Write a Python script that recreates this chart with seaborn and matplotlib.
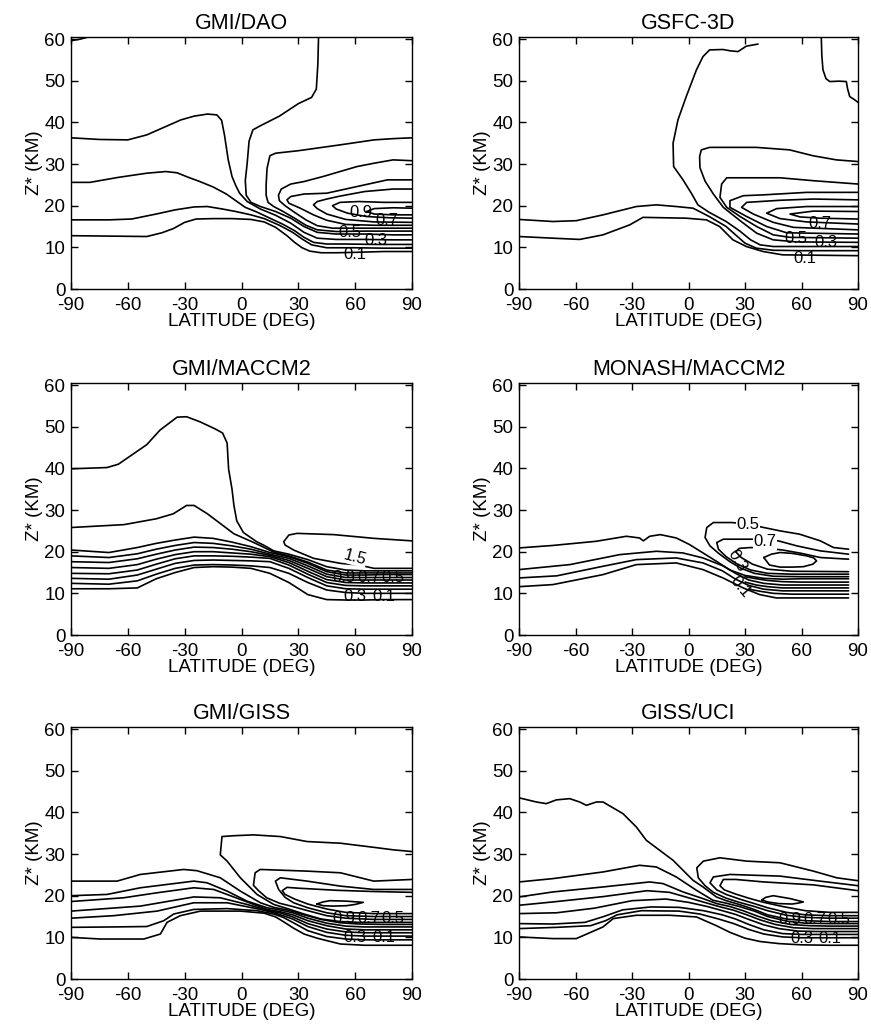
import matplotlib
matplotlib.use("Agg")
import matplotlib.pyplot as plt
import seaborn as sns

sns.set_theme(style="ticks", rc={"axes.edgecolor": "black", "xtick.color": "black",
                                 "ytick.color": "black", "text.color": "black",
                                 "axes.labelcolor": "black", "axes.linewidth": 1.0})
plt.rcParams["font.family"] = ["Liberation Sans", "DejaVu Sans"]

TITLES = ["GMI/DAO", "GSFC-3D", "GMI/MACCM2", "MONASH/MACCM2", "GMI/GISS", "GISS/UCI"]
LAT_TICKS = [-90, -60, -30, 0, 30, 60, 90]
Z_TICKS = [0, 10, 20, 30, 40, 50, 60]
X_LABEL = "LATITUDE (DEG)"
Y_LABEL = "Z* (KM)"

# ---------------- GMI/DAO contour lines (latitude, altitude) ----------------
dao_lat = [
    [-90, -85, -80],
    [40.7, 40.3, 39.5, 37, 30, 20, 10, 6, 4, 3, 2, 2.5, 5, 10, 18, 26, 33, 40, 50, 65, 80, 90],
    [-90, -75, -60, -50, -40, -32, -25, -18, -13, -10.5, -9, -7, -5, -3, -1, 3, 10, 18, 26, 33, 40, 50, 65, 80, 90],
    [-90, -80, -65, -50, -40, -34, -28, -22, -15, -8, -3, 2, 8, 15, 22, 28, 33, 38, 45, 55, 70, 90],
    [-90, -70, -58, -45, -35, -25, -18, -10, -3, 5, 12, 20, 27, 32, 37, 45, 60, 75, 90],
    [-90, -70, -50, -42, -36, -30, -24, -15, -5, 5, 12, 18, 24, 28, 32, 36, 42, 50, 60, 75, 90],
    [90, 80, 70, 52, 30, 18, 15, 13.5, 13, 13, 14, 17, 22, 28, 34, 40, 50, 65, 90],
    [90, 80, 70, 61, 52, 43, 33, 26, 21, 19.5, 20, 23, 28, 34, 40, 48, 58, 70, 90],
    [90, 77, 61, 45, 33, 26, 24, 25, 31, 38, 45, 55, 70, 90],
    [90, 80, 65, 52, 45, 40, 38, 40, 45, 55, 70, 90],
    [90, 75, 62, 52, 48, 50, 56, 66, 78, 90],
    [90, 80, 70, 66, 70, 80, 90],
]
dao_z = [
    [59.6, 60.0, 60.6],
    [61, 54, 48, 46, 44.5, 41.5, 39.2, 38.2, 35.5, 30.2, 26, 22.5, 20.8, 19.8, 18.6, 17, 15, 13.6, 13.2, 13.2, 13, 13],
    [36.3, 35.9, 35.8, 37, 39, 40.6, 41.5, 42, 41.8, 40.5, 37, 31, 27, 24.8, 23, 21, 19.2, 17.7, 15.8, 13.6, 12.2, 11.9, 11.9, 11.8, 11.8],
    [25.6, 25.6, 26.8, 27.8, 28.2, 27.9, 26.8, 25.8, 24.5, 22.8, 21.2, 19.6, 18.5, 17, 15.5, 14, 12.4, 11.2, 10.8, 10.8, 10.7, 10.7],
    [16.6, 16.6, 16.8, 18, 19, 19.7, 19.8, 19.2, 18.6, 17.8, 16.9, 15.3, 13.6, 12, 10.6, 9.9, 9.9, 9.8, 9.8],
    [12.8, 12.7, 12.6, 13.5, 14.5, 16, 16.8, 16.9, 16.9, 16.7, 16.1, 14.8, 12.8, 11.2, 9.9, 9.1, 8.7, 8.7, 8.8, 9, 9],
    [36.3, 36.1, 35.8, 34.6, 33.2, 32.6, 32, 29, 25, 22.5, 20.8, 19.8, 18.6, 17, 15.3, 14.2, 13.8, 13.9, 13.9],
    [30.8, 31, 30.2, 29.4, 28.2, 27, 25.8, 25.2, 24, 22.5, 21.2, 20, 18.4, 16.6, 15.2, 14.6, 14.6, 14.6, 14.6],
    [26.2, 26.2, 24.6, 23, 22.8, 22.2, 21.4, 20.6, 19.4, 17.8, 16.5, 15.5, 15.3, 15.3],
    [24, 24, 23.4, 22.3, 21.6, 21, 20.2, 19.3, 18, 16.7, 16.1, 16],
    [20.8, 20.8, 21, 20.8, 20, 19.2, 18.2, 17.4, 17.1, 17],
    [19.4, 19.5, 19.3, 18.6, 18, 17.8, 17.8],
]
dao_labels = ["0.9", "0.7", "0.5", "0.3", "0.1"]
dao_label_lat = [63, 77, 57, 71, 60]
dao_label_z = [18.3, 16.4, 13.6, 11.6, 8.4]

# ---------------- GSFC-3D ----------------
gsfc_lat = [
    [36.9, 30.7, 26.3, 21.9, 18.3, 11.2, 7.7, 4.2, -1.2, -5.6, -8.2, -7.9, -2.9, 1.5, 5, 11, 20, 27, 33, 38, 45, 60, 90],
    [70.5, 70.8, 71.4, 73, 75, 80, 83.8, 84.5, 85.6, 88, 90],
    [-90, -72, -59.6, -45.4, -27.7, -17.1, -6.5, 2.4, 11, 20, 25, 30, 36, 45, 60, 90],
    [-90, -72, -57.8, -45.4, -38.3, -31.2, -24.2, -1.2, 9.5, 16.5, 23.6, 30.7, 39.6, 50, 90],
    [90, 78.5, 66, 53.7, 36, 20, 11.2, 6.8, 5.9, 6.1, 8.8, 13.2, 18.5, 27.4, 36.2, 45, 57.5, 90],
    [90, 66.3, 48.6, 20.3, 17.6, 16.7, 20.3, 27.4, 36.2, 45, 53.9, 90],
    [90, 62.8, 39.8, 29.1, 22, 22, 30.9, 41.5, 52.1, 90],
    [90, 66.3, 48.6, 30.9, 28.2, 34.4, 45, 55.7, 90],
    [90, 62.8, 46.8, 41.5, 48.6, 62.8, 90],
    [90, 66.3, 53.9, 59.2, 70, 90],
]
gsfc_z = [
    [58.8, 58.3, 57, 57.2, 57.5, 57.4, 55.8, 52.6, 46.2, 40.6, 35, 29.4, 26.2, 23, 20.2, 18.4, 16.2, 14, 11.8, 10.6, 10.2, 10.2, 10.2],
    [60.5, 56, 52.6, 50.5, 49.8, 49.9, 49.8, 48, 46.2, 45.5, 44.8],
    [16.7, 16.2, 16.4, 17.8, 19.8, 20.2, 19.8, 19.4, 17.4, 15, 13, 11, 9.8, 9.3, 9.2, 9.2],
    [12.6, 12.2, 11.9, 13, 14.2, 15.4, 17.2, 17, 16.6, 15, 11.8, 10.2, 9, 8.2, 8],
    [30.6, 31, 32, 33.4, 34, 34, 34, 33.4, 31.8, 29.1, 25.9, 22.8, 19.6, 16.4, 13.4, 11.8, 11.3, 11.2],
    [25.2, 26, 26.7, 26.7, 25.2, 22, 19.6, 17.4, 15, 13, 12.4, 12.2],
    [23.2, 23.2, 22.6, 22.4, 21.2, 19.6, 17.4, 15, 13.5, 13.2],
    [21.4, 21.6, 21.3, 20.8, 19.6, 18, 16, 14.8, 14.2],
    [19.8, 19.8, 19.3, 18.2, 16.9, 16.1, 15.6],
    [18.6, 18.7, 18, 17.3, 17, 16.8],
]
gsfc_labels = ["0.7", "0.5", "0.3", "0.1"]
gsfc_label_lat = [70, 57, 73, 62]
gsfc_label_z = [15.8, 12.2, 11.2, 7.4]

# ---------------- GMI/MACCM2 ----------------
MAC_ST = [-90, -70, -55, -45, -35, -25, -15, -5, 5, 15, 25, 35, 45, 55, 65, 75, 90]
mac_lat = [
    [-90, -71, -65, -50, -43, -34, -29, -22, -14, -10, -7.6, -6.8, -5, -4, -2.5, 1, 8, 12, 17, 25, 35, 45, 55, 65, 75, 90],
    [-90, -62, -45, -36, -29, -25, -18, -11, -4, 6, 12, 17, 25, 35, 45, 55, 65, 90],
    MAC_ST, MAC_ST, MAC_ST, MAC_ST, MAC_ST, MAC_ST, MAC_ST, MAC_ST,
    [90, 70, 48.7, 29.3, 25, 22.3, 23, 27.5, 38.1, 52.2, 62, 70, 90],
]
mac_z = [
    [39.9, 40.2, 41, 45.7, 49.2, 52.3, 52.4, 51.2, 49.5, 48.5, 46.1, 39.8, 35, 31.1, 27.4, 24.6, 22.4, 21.5, 20.2, 19.4, 18.1, 16.4, 15.6, 15.4, 15.4, 15.4],
    [25.8, 26.5, 27.9, 29.1, 31.1, 31.1, 29.1, 26.7, 24.3, 22.3, 21, 19.9, 19, 17.5, 15.6, 14.9, 14.9, 14.9],
    [20.4, 19.8, 21, 22, 22.8, 23.5, 23.2, 22.3, 21.2, 19.8, 18.8, 17.2, 15.2, 14.4, 14.4, 14.5, 14.5],
    [19, 18.6, 19.5, 20.6, 21.5, 22.2, 22, 21.4, 20.6, 19.4, 18.4, 16.6, 14.6, 13.8, 13.8, 13.8, 13.8],
    [17.6, 17.4, 18.3, 19.4, 20.4, 21.1, 21, 20.6, 20, 19.1, 17.9, 16, 14, 13.2, 13.2, 13.2, 13.2],
    [16.2, 16, 16.9, 18.2, 19.3, 20, 20, 19.7, 19.4, 18.8, 17.4, 15.3, 13.3, 12.6, 12.5, 12.5, 12.5],
    [14.8, 14.7, 15.6, 17, 18.3, 19, 19, 18.9, 18.7, 18.4, 16.8, 14.6, 12.6, 11.9, 11.8, 11.8, 11.8],
    [13.6, 13.4, 14.4, 15.8, 17.2, 17.9, 18, 17.9, 17.8, 17.6, 16, 13.8, 11.8, 11.1, 11, 11, 11],
    [12.4, 12.2, 13, 14.6, 16, 16.8, 16.9, 16.8, 16.6, 16.2, 14.8, 12.6, 10.8, 10.2, 10, 10, 10],
    [11.1, 11.1, 11.3, 13.5, 15, 16.2, 16.4, 16.3, 16, 14.8, 12.6, 9.7, 8.5, 8.4, 8.4, 8.5, 8.5],
    [22.6, 23.2, 24.1, 24.4, 24, 22.4, 21.6, 20.4, 18.4, 17.2, 16.8, 16, 16],
]
mac_labels = ["1.5", "0.9", "0.7", "0.5", "0.3", "0.1"]
mac_label_lat = [60, 54, 67, 80, 60, 75]
mac_label_z = [18.6, 13.8, 13.8, 13.8, 9.2, 9.2]
mac_label_rot = [-15, 0, 0, 0, 0, 0]

# ---------------- MONASH/MACCM2 ----------------
mon_lat = [
    [-90, -72, -49, -33, -26, -24, -20.6, -15, -6.5, 0.6, 7.7, 14.8, 22, 30, 40, 50, 60, 70, 85],
    [-90, -63, -36.5, -17, -3, 7.7, 18.3, 25, 32, 40, 50, 60, 85],
    [-90, -70, -45.4, -27.7, -6.5, 7.7, 18, 25, 32, 40, 50, 85],
    [-90, -72, -45.4, -27.7, -6.5, 7.7, 18.3, 29, 37.8, 46.6, 85],
    [85, 77, 70, 59, 48.6, 40, 32, 23, 13.2, 9.7, 8.8, 11.4, 16, 22, 28, 35, 45, 60, 85],
    [85, 70, 57.5, 47.7, 40, 33.6, 25, 18.5, 15, 15.9, 20, 26, 33, 42, 55, 85],
    [85, 70, 60, 50, 42, 33, 27, 25, 28, 34, 42, 55, 85],
    [40, 44, 48.6, 55, 62.8, 66.5, 68, 66, 61, 55, 48.6, 43, 40],
    [30, 36, 42, 50, 60, 85],
    [30, 36, 42, 50, 60, 85],
    [32, 38, 45, 55, 85],
]
mon_z = [
    [20.9, 21.5, 22.5, 23.7, 23.3, 22.6, 23.7, 24.1, 23.3, 21.7, 19.7, 17.7, 15.6, 14.3, 13.6, 13.4, 13.5, 13.5, 13.5],
    [15.7, 16.9, 19.3, 20.1, 19.7, 18.5, 16.6, 14.8, 13.2, 12.4, 12, 12, 12],
    [13.7, 14.2, 16.5, 18.1, 18.5, 17.3, 15.4, 13.4, 11.9, 11, 10.6, 10.6],
    [11.6, 12.1, 14.5, 16.9, 17.3, 15.7, 13.7, 11.3, 9.7, 8.9, 8.9],
    [20.6, 21, 22.6, 24.2, 25, 25.8, 26.6, 27, 27, 25.8, 23.4, 21.4, 19.6, 17.6, 16, 14.8, 14.1, 14, 14],
    [19.4, 20.2, 21.4, 22.6, 22.8, 23, 23, 23, 22.2, 20.6, 18.8, 17, 15.6, 14.8, 14.6, 14.6],
    [18.2, 18.6, 19.6, 20.4, 20.8, 21, 20.8, 20, 18.6, 17, 15.8, 15.3, 15.2],
    [18.6, 19.4, 19.8, 19.6, 19.0, 18.5, 17.8, 17, 16.4, 16.3, 16.3, 16.8, 18.6],
    [14.0, 13.5, 13.1, 12.8, 12.7, 12.7],
    [12.7, 12.0, 11.6, 11.3, 11.3, 11.3],
    [11.0, 10.5, 10.0, 9.8, 9.8],
]
mon_labels = ["0.5", "0.7", "0.3", "0.1"]
mon_label_lat = [31.5, 40.5, 25.5, 27.5]
mon_label_z = [26.6, 22.4, 17.8, 11.6]
mon_label_rot = [0, 0, -60, -50]

# ---------------- GMI/GISS ----------------
giss_lat = [
    [90, 80.3, 70, 52.2, 34.6, 20.5, 6.4, -4.1, -10.3, -11.2, -7.6, -0.6, 8.2, 17, 25, 33, 42, 52, 62, 75, 90],
    [-90, -65.7, -53.4, -30.5, -23.5, -11.2, -0.6, 10, 17, 25, 33, 42, 52, 62, 75, 90],
    [-90, -71, -53.4, -25.2, -18.2, -7.6, 2.9, 13.5, 20, 27, 35, 45, 55, 65, 75, 90],
    [-90, -62.2, -44.6, -25.2, -14.7, -0.6, 13.5, 20, 27, 35, 45, 55, 65, 90],
    [-90, -53.4, -25.2, -11.2, 2.9, 15.2, 21, 27, 35, 45, 55, 65, 90],
    [-90, -67.5, -44.6, -25.2, -7.6, 10, 17, 22, 27, 35, 45, 55, 65, 90],
    [-90, -67.5, -50, -41, -35.8, -25.2, -7.6, 8.2, 17, 22, 27, 35, 45, 55, 65, 90],
    [-90, -74.5, -51.6, -42.8, -39.3, -32.3, -21.7, -0.6, 12, 18, 22, 27.5, 33, 39.9, 52.2, 65, 90],
    [90, 69.8, 52.2, 34.6, 9.9, 7.2, 6.3, 9, 13.3, 20, 27, 35, 45, 55, 70, 90],
    [90, 69.8, 52.2, 34.6, 20.5, 17.9, 19.6, 23, 27.5, 35, 45, 55, 70, 90],
    [90, 70, 50, 30, 24, 21.5, 23, 28, 35, 45, 55, 70, 90],
    [39.7, 43, 46.7, 55, 64.3, 60, 55.5, 48, 43.2, 39.7],
]
giss_z = [
    [30.6, 31, 31.6, 32.6, 33, 34.2, 34.6, 34.4, 34.2, 29.8, 28.3, 24.3, 20.3, 17.9, 16.8, 15.6, 14.4, 13.8, 13.6, 13.6, 13.6],
    [23.5, 23.5, 25.1, 26.3, 26, 24.3, 21.1, 18.3, 17.2, 16.5, 15.4, 14.3, 13.5, 13.2, 13.1, 13.1],
    [20, 20.3, 21.9, 23.5, 23.1, 21.1, 18.7, 17.1, 16.6, 15.9, 14.6, 13.4, 12.7, 12.5, 12.5, 12.5],
    [18.6, 19.5, 20.7, 21.9, 21.5, 19.1, 16.7, 16.2, 15.4, 14, 12.8, 12, 11.8, 11.8],
    [16.3, 17.5, 19.7, 19.5, 17.9, 16.3, 15.8, 14.9, 13.3, 12, 11.3, 11.1, 11.1],
    [14.6, 15.2, 16.3, 18.3, 18.3, 16.7, 15.9, 15.2, 14.4, 12.6, 11.2, 10.5, 10.3, 10.3],
    [12.4, 12.5, 12.6, 14, 15.6, 16.7, 16.9, 16.4, 15.6, 14.8, 13.6, 11.6, 10.2, 9.6, 9.4, 9.4],
    [10, 9.6, 9.6, 10.8, 13.6, 15.2, 16.3, 16.3, 15.8, 14.9, 13.8, 12.2, 10.8, 9.8, 8.4, 8.1, 8.1],
    [23.9, 23.5, 25.5, 25.9, 26.3, 25.5, 22.5, 21.2, 19.5, 18.2, 17.4, 16.4, 15.2, 14.6, 14.3, 14.3],
    [21.5, 21.5, 22.3, 23.5, 24.3, 23.5, 21.5, 19.6, 18.3, 17.1, 15.9, 15.2, 15, 15],
    [20.8, 21, 21.3, 21.8, 22, 21.2, 20.3, 19.2, 18, 16.8, 16, 15.7, 15.7],
    [18, 18.5, 18.8, 18.7, 18.4, 17.9, 17.6, 17.5, 17.6, 18],
]
giss_labels = ["0.9", "0.7", "0.5", "0.3", "0.1"]
giss_label_lat = [54, 67, 80, 60, 75]
giss_label_z = [14.6, 14.6, 14.6, 10.0, 10.0]

# ---------------- GISS/UCI ----------------
uci_lat = [
    [-90, -80.8, -75.5, -70.2, -63.1, -57.8, -54.2, -48.9, -45.4, -34.8, -27.7, -22.4, -15.3, -8.2, -2.9, 2.4, 7.7, 14.8, 20, 25.4, 31, 36, 42, 52, 62, 75, 90],
    [90, 78.7, 66.3, 48.6, 30.9, 16.7, 7.9, 4.4, 5.2, 8.8, 13.2, 20, 27, 35, 42, 52, 62, 75, 90],
    [90, 69.8, 48.6, 22, 13.2, 11.4, 15, 20, 27, 35, 42, 52, 62, 75, 90],
    [90, 66.3, 40, 25, 18.5, 16.7, 19, 25, 32, 40, 50, 62, 75, 90],
    [39, 41, 45, 54, 61, 58, 55, 48, 42, 39],
    [-90, -72, -45.4, -26, -17.1, -6.5, 4.2, 13, 20, 27, 35, 42, 52, 62, 75, 90],
    [-90, -72, -45.4, -20.6, -13.5, -2.9, 7.7, 15, 22, 29, 36, 44, 54, 64, 75, 90],
    [-90, -72, -45, -22, -10, 0, 10, 17, 24, 31, 38, 46, 56, 66, 90],
    [-90, -70, -50, -30, -12, 0, 10, 18, 25, 32, 40, 48, 58, 68, 90],
    [-90, -72, -55, -45, -35, -20, -5, 8, 18, 25, 32, 40, 50, 60, 90],
    [-90, -70, -52, -44, -38, -25, -5, 6, 16, 24, 32, 40, 50, 60, 90],
    [-90, -72, -59.6, -45.4, -40, -27.7, -10, 4.2, 14.8, 22, 30, 38, 48, 60, 75, 90],
]
uci_z = [
    [43.5, 42.5, 42.1, 43, 43.3, 42.5, 41.7, 42.5, 42.5, 39.7, 36.5, 33.3, 30.9, 28.5, 26.1, 23.7, 22.1, 19.7, 18.8, 18.1, 17.3, 16.5, 15.4, 14.4, 14, 13.8, 13.8],
    [23.6, 24.3, 25.9, 27.9, 28.3, 29.1, 28.3, 26.7, 24.3, 22.4, 20.8, 19.4, 18.4, 17.4, 16.4, 15.3, 14.8, 14.6, 14.6],
    [22.4, 23.5, 24.7, 25.1, 24.5, 23.1, 21.4, 20.3, 19.2, 18.1, 17.1, 16, 15.4, 15.2, 15.2],
    [21.2, 22.6, 23.3, 23.9, 23.9, 22.4, 21.4, 20.4, 19.4, 18.4, 17.4, 16.4, 16, 16],
    [19, 19.6, 20, 19.3, 18.5, 18.2, 18, 18.1, 18.5, 19],
    [23.3, 24.1, 25.7, 27.3, 26.9, 24.5, 21.3, 18.9, 18.2, 17.4, 16.3, 15, 13.9, 13.4, 13.3, 13.3],
    [19.7, 20.9, 22.1, 23.3, 22.9, 20.9, 19.3, 18.1, 17.4, 16.4, 15.2, 14, 13.1, 12.8, 12.7, 12.7],
    [17.7, 18.5, 19.8, 21.2, 20.8, 19.5, 18.2, 17.3, 16.5, 15.4, 14.2, 13.1, 12.3, 12.1, 12.1],
    [15.7, 15.9, 17, 18.8, 19.2, 18.4, 17.4, 16.4, 15.5, 14.3, 13, 12.1, 11.5, 11.4, 11.4],
    [13.3, 13.2, 13.6, 15, 16.6, 17.3, 17.2, 16.4, 15.4, 14.4, 13.1, 11.8, 10.9, 10.7, 10.7],
    [12.1, 12.4, 12.8, 14, 15.4, 16.4, 16.3, 15.6, 14.4, 13.3, 11.9, 10.8, 10.1, 9.9, 9.9],
    [10.1, 9.7, 9.7, 12.5, 14.5, 15.3, 15.3, 14.9, 12.8, 11.2, 9.8, 9, 8.5, 8.2, 8.1, 8.1],
]
uci_labels = ["0.9", "0.7", "0.5", "0.3", "0.1"]
uci_label_lat = [54, 67, 80, 60, 75]
uci_label_z = [14.4, 14.4, 14.4, 9.8, 9.8]

# ---------------- layout ----------------
fig = plt.figure(figsize=(8.71, 10.30), dpi=100)
col_left = [71 / 871, 519 / 871]
col_w = [341 / 871, 339 / 871]
row_bottom = [1 - 289 / 1030, 1 - 635 / 1030, 1 - 979 / 1030]
row_h = 252 / 1030

panels = [
    (dao_lat, dao_z, dao_labels, dao_label_lat, dao_label_z, None, False),
    (gsfc_lat, gsfc_z, gsfc_labels, gsfc_label_lat, gsfc_label_z, None, False),
    (mac_lat, mac_z, mac_labels, mac_label_lat, mac_label_z, mac_label_rot, False),
    (mon_lat, mon_z, mon_labels, mon_label_lat, mon_label_z, mon_label_rot, True),
    (giss_lat, giss_z, giss_labels, giss_label_lat, giss_label_z, None, False),
    (uci_lat, uci_z, uci_labels, uci_label_lat, uci_label_z, None, False),
]

for i, (lats, zs, labs, llat, lz, lrot, boxed) in enumerate(panels):
    r, c = divmod(i, 2)
    ax = fig.add_axes([col_left[c], row_bottom[r], col_w[c], row_h])
    for la, zz in zip(lats, zs):
        assert len(la) == len(zz)
        sns.lineplot(x=la, y=zz, sort=False, estimator=None, color="black",
                     linewidth=1.2, ax=ax, legend=False)
    for k, (t, x, y) in enumerate(zip(labs, llat, lz)):
        rot = 0 if lrot is None else lrot[k]
        kw = {}
        if (boxed and rot == 0) or (t == "1.5"):
            kw["bbox"] = dict(facecolor="white", edgecolor="none", pad=0.4)
        ax.text(x, y, t, fontsize=12, ha="center", va="center", rotation=rot,
                zorder=5, **kw)
    ax.set_xlim(-90, 90)
    ax.set_ylim(0, 60.5)
    ax.set_xticks(LAT_TICKS)
    ax.set_yticks(Z_TICKS)
    ax.set_xticklabels([str(v) for v in LAT_TICKS])
    ax.set_yticklabels([str(v) for v in Z_TICKS])
    ax.tick_params(direction="in", top=True, right=True, length=5, width=1,
                   labelsize=13.5)
    ax.tick_params(axis="x", pad=6)
    ax.tick_params(axis="y", pad=4)
    ax.set_xlabel(X_LABEL, fontsize=13.5, labelpad=-1)
    ax.set_ylabel(Y_LABEL, fontsize=13.5, labelpad=1)
    ax.set_title(TITLES[i], fontsize=15.5, pad=6)
    for s in ax.spines.values():
        s.set_visible(True)
        s.set_linewidth(1.0)

fig.savefig("out.png", dpi=100, facecolor="white")
